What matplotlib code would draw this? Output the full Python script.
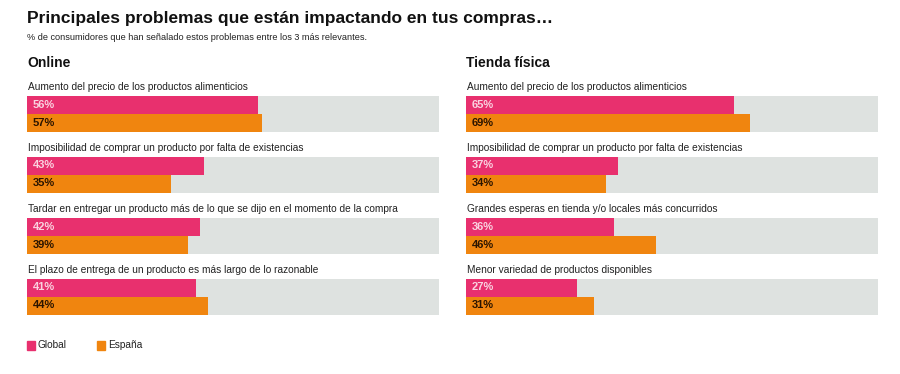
import matplotlib.pyplot as plt
from matplotlib.patches import Rectangle

plt.rcParams['font.family'] = ['Liberation Sans', 'DejaVu Sans']

online_labels = [
    'Aumento del precio de los productos alimenticios',
    'Imposibilidad de comprar un producto por falta de existencias',
    'Tardar en entregar un producto más de lo que se dijo en el momento de la compra',
    'El plazo de entrega de un producto es más largo de lo razonable',
]
online_global = [56, 43, 42, 41]
online_espana = [57, 35, 39, 44]

tienda_labels = [
    'Aumento del precio de los productos alimenticios',
    'Imposibilidad de comprar un producto por falta de existencias',
    'Grandes esperas en tienda y/o locales más concurridos',
    'Menor variedad de productos disponibles',
]
tienda_global = [65, 37, 36, 27]
tienda_espana = [69, 34, 46, 31]

PINK = '#E8306E'
ORANGE = '#F0850F'
TRACK = '#DEE2E0'

W, H = 900, 374
fig = plt.figure(figsize=(9, 3.74), dpi=100)
fig.patch.set_facecolor('white')


def px(x, y):
    return x / W, 1 - y / H


def panel(x0, title, labels, g, e):
    # y unit = one group (61 px)
    top, bottom = 78, 318
    ax = fig.add_axes([x0 / W, 1 - bottom / H, 412 / W, (bottom - top) / H])
    ax.set_xlim(0, 100)
    y0 = 87
    ax.set_ylim((bottom - y0) / 61, (top - y0) / 61)
    ax.axis('off')
    h = 18 / 61
    for i, lab in enumerate(labels):
        ax.text(0.3, i, lab, fontsize=7.3, color='#222222', va='center', ha='left')
        yp = i + 17.5 / 61
        yo = i + 35.5 / 61
        ax.barh([yp, yo], [100, 100], height=h, color=TRACK, linewidth=0)
        ax.barh(yp, g[i], height=h, color=PINK, linewidth=0)
        ax.barh(yo, e[i], height=h, color=ORANGE, linewidth=0)
        ax.text(1.4, yp, f'{g[i]}%', fontsize=8, fontweight='bold',
                color='#FAD3E0', va='center', ha='left')
        ax.text(1.4, yo, f'{e[i]}%', fontsize=8, fontweight='bold',
                color='#2a1400', va='center', ha='left')
    fig.text(*px(x0, 63), title, fontsize=10, fontweight='bold',
             color='#111111', va='center', ha='left')


panel(27, 'Online', online_labels, online_global, online_espana)
panel(466, 'Tienda física', tienda_labels, tienda_global, tienda_espana)

fig.text(*px(27, 19), 'Principales problemas que están impactando en tus compras…',
         fontsize=12.5, fontweight='bold', color='#111111', va='center', ha='left')
fig.text(*px(27, 38), '% de consumidores que han señalado estos problemas entre los 3 más relevantes.',
         fontsize=6.6, color='#222222', va='center', ha='left')

# legend
for xs, col, lab in [(27, PINK, 'Global'), (97, ORANGE, 'España')]:
    fig.patches.append(Rectangle(px(xs, 350), 8 / W, 9 / H, color=col,
                                 transform=fig.transFigure, figure=fig))
    fig.text(*px(xs + 11, 345.5), lab, fontsize=7.3, color='#222222',
             va='center', ha='left')

fig.savefig('out.png', dpi=100, facecolor='white')
